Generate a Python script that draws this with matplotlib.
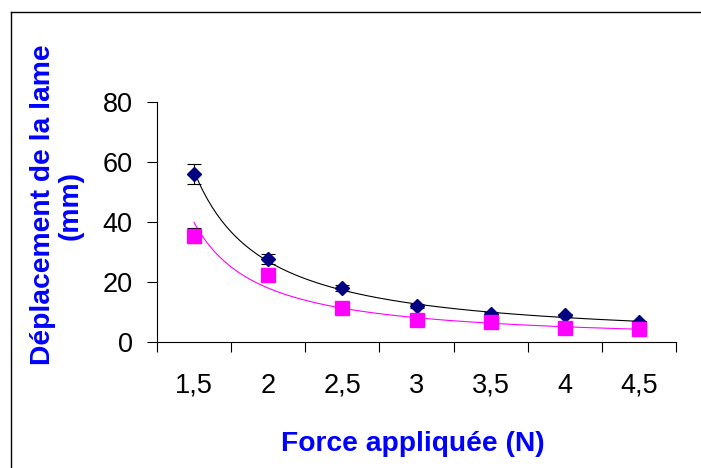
import numpy as np
import matplotlib
matplotlib.use('Agg')
import matplotlib.pyplot as plt
from matplotlib.lines import Line2D

# --- Donnees ---
forces      = ['1,5', '2', '2,5', '3', '3,5', '4', '4,5']
idx         = np.arange(1, 8)
depl_bleu   = [56.0, 27.6, 17.9, 12.0, 9.5, 9.0, 6.6]
err_bleu    = [3.2, 1.6, 1.0, 0.7, 0.5, 0.5, 0.5]
depl_rose   = [35.5, 22.3, 11.2, 7.3, 6.8, 4.8, 4.2]
err_rose    = [2.4, 1.0, 0.6, 0.5, 0.4, 0.4, 0.4]

plt.rcParams['font.family'] = ['Liberation Sans', 'DejaVu Sans']

fig = plt.figure(figsize=(7.01, 4.68), dpi=100)
ax = fig.add_axes([157/701, 1-342/468, (676-157)/701, (342-102)/468])

ax.set_xlim(0.5, 7.5)
ax.set_ylim(0, 80)
ax.set_xticks(np.arange(0.5, 8.0, 1.0))
ax.set_xticklabels([])
ax.set_xticks(idx, minor=True)
ax.set_xticklabels(forces, minor=True)
ax.tick_params(axis='x', which='major', direction='out', length=7.5, width=0.8)
ax.tick_params(axis='x', which='minor', length=0, pad=22, labelsize=19.5)
ax.set_yticks([0, 20, 40, 60, 80])
ax.tick_params(axis='y', direction='out', length=7.5, width=0.8, pad=10, labelsize=19.5)
for s in ['top', 'right']:
    ax.spines[s].set_visible(False)
for s in ['left', 'bottom']:
    ax.spines[s].set_linewidth(0.8)

# courbes de tendance (puissance, ajustees sur le rang de la categorie)
def courbe_puissance(y):
    b, a = np.polyfit(np.log(idx), np.log(y), 1)
    xx = np.linspace(1, 7.1, 200)
    return xx, np.exp(a) * xx ** b

xx, yy = courbe_puissance(depl_bleu)
ax.plot(xx, yy, color='black', lw=0.8, zorder=2, clip_on=False)
xx, yy = courbe_puissance(depl_rose)
ax.plot(xx, yy, color='#FF00FF', lw=0.8, zorder=2, clip_on=False)

ax.errorbar(idx, depl_bleu, yerr=err_bleu, fmt='D', color='#000080', ms=7.2,
            ecolor='black', elinewidth=0.8, capsize=5, capthick=0.8, zorder=3)
ax.errorbar(idx, depl_rose, yerr=err_rose, fmt='s', color='#FF00FF', ms=10,
            ecolor='black', elinewidth=0.8, capsize=5, capthick=0.8, zorder=4)

# titres des axes
fig.text(413/701, 1-451/468, 'Force appliquée (N)', ha='center', va='baseline',
         fontsize=20.3, fontweight='bold', color='#0000FF')
fig.text(57/701, 1-205/468, 'Déplacement de la lame\n(mm)', rotation=90,
         ha='center', va='center', multialignment='center',
         fontsize=20.3, fontweight='bold', color='#0000FF', linespacing=1.1)

# cadre du graphique
fig.add_artist(Line2D([11/701, 1.0], [1-12/468, 1-12/468], color='black', lw=1.0))
fig.add_artist(Line2D([11/701, 11/701], [0.0, 1-12/468], color='black', lw=1.0))

plt.savefig('out.png', dpi=100, facecolor='white')
